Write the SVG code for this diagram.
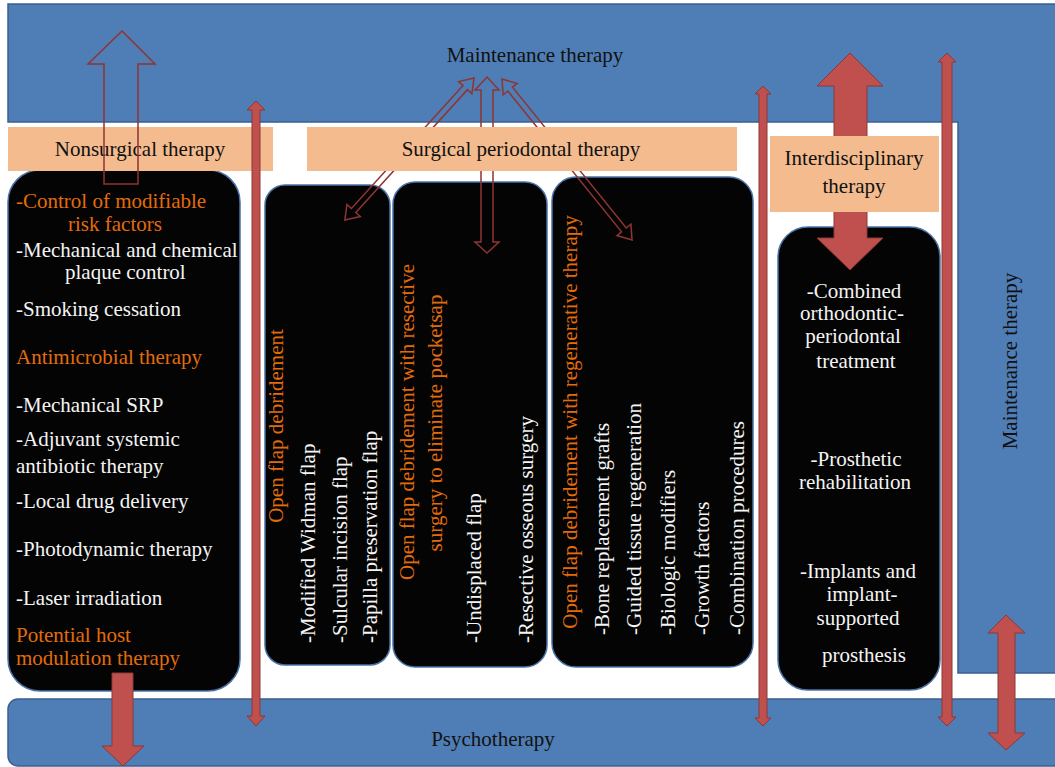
<svg xmlns="http://www.w3.org/2000/svg" width="1055" height="767" viewBox="0 0 1055 767">
<style>
text{font-family:"Liberation Serif","Times New Roman",serif;font-size:21px}
.dk{fill:#111}
.wh{fill:#f4f4f4}
.or{fill:#e36c0a}
.mid{text-anchor:middle}
.blue{fill:#4f7db6;stroke:#3a5f8e;stroke-width:1.5}
.peach{fill:#f3bb8e}
.box{fill:#040404;stroke:#4a72a6;stroke-width:1.5}
.solid{fill:#c0504d;stroke:#8c3836;stroke-width:1}
.hollow{fill:none;stroke:#8e3532;stroke-width:1.5}
</style>
<rect width="1055" height="767" fill="#ffffff"/>

<g id="maintenance">
<polygon class="blue" points="8,4 1060,4 1060,673 958,673 958,122 8,122"/>
<text class="dk mid" x="535" y="62">Maintenance therapy</text>
<text class="dk mid" transform="translate(1017,361) rotate(-90)">Maintenance therapy</text>
</g>

<g id="psychotherapy">
<rect class="blue" x="8" y="699" width="1060" height="67" rx="10"/>
<text class="dk mid" x="493" y="746">Psychotherapy</text>
</g>

<g id="nonsurgical-box">
<rect class="box" x="8" y="170" width="232" height="521" rx="32"/>
<text class="or" x="16" y="208">-Control of modifiable</text>
<text class="or" x="68" y="231">risk factors</text>
<text class="wh" x="16" y="257">-Mechanical and chemical</text>
<text class="wh" x="65" y="279">plaque control</text>
<text class="wh" x="16" y="316">-Smoking cessation</text>
<text class="or" x="16" y="364">Antimicrobial therapy</text>
<text class="wh" x="16" y="412">-Mechanical SRP</text>
<text class="wh" x="16" y="446">-Adjuvant systemic</text>
<text class="wh" x="16" y="473">antibiotic therapy</text>
<text class="wh" x="16" y="508">-Local drug delivery</text>
<text class="wh" x="16" y="556">-Photodynamic therapy</text>
<text class="wh" x="16" y="605">-Laser irradiation</text>
<text class="or" x="16" y="642">Potential host</text>
<text class="or" x="16" y="665">modulation therapy</text>
</g>

<g id="open-flap-box">
<rect class="box" x="265" y="185" width="125" height="480" rx="20"/>
<text class="or mid" transform="translate(283,426) rotate(-90)">Open flap debridement</text>
<text class="wh" transform="translate(315,643) rotate(-90)">-Modified Widman flap</text>
<text class="wh" transform="translate(347,643) rotate(-90)">-Sulcular incision flap</text>
<text class="wh" transform="translate(377,643) rotate(-90)">-Papilla preservation flap</text>
</g>

<g id="resective-box">
<rect class="box" x="393" y="182" width="154" height="485" rx="22"/>
<text class="or mid" transform="translate(414,422) rotate(-90)">Open flap debridement with resective</text>
<text class="or mid" transform="translate(442,423) rotate(-90)">surgery to eliminate pocketsap</text>
<text class="wh" transform="translate(481,643) rotate(-90)">-Undisplaced flap</text>
<text class="wh" transform="translate(533,643) rotate(-90)">-Resective osseous surgery</text>
</g>

<g id="regenerative-box">
<rect class="box" x="552" y="177" width="201" height="490" rx="24"/>
<text class="or mid" transform="translate(577,422) rotate(-90)">Open flap debridement with regenerative therapy</text>
<text class="wh" transform="translate(609,635) rotate(-90)">-Bone replacement grafts</text>
<text class="wh" transform="translate(641,635) rotate(-90)">-Guided tissue regeneration</text>
<text class="wh" transform="translate(675,635) rotate(-90)">-Biologic modifiers</text>
<text class="wh" transform="translate(709,635) rotate(-90)">-Growth factors</text>
<text class="wh" transform="translate(744,635) rotate(-90)">-Combination procedures</text>
</g>

<g id="interdisciplinary-box">
<rect class="box" x="778" y="227" width="162" height="463" rx="30"/>
<text class="wh mid" x="854" y="298">-Combined</text>
<text class="wh mid" x="852" y="320">orthodontic-</text>
<text class="wh mid" x="853" y="343">periodontal</text>
<text class="wh mid" x="856" y="368">treatment</text>
<text class="wh mid" x="856" y="466">-Prosthetic</text>
<text class="wh mid" x="855" y="489">rehabilitation</text>
<text class="wh mid" x="858" y="578">-Implants and</text>
<text class="wh mid" x="862" y="601">implant-</text>
<text class="wh mid" x="858" y="625">supported</text>
<text class="wh mid" x="864" y="662">prosthesis</text>
</g>

<g id="connectors-back">
<polygon class="hollow" points="487,77 499,90 493,90 493,242 499,242 487,253 475,242 481,242 481,90 475,90"/>
<polygon class="hollow" transform="translate(474,78) rotate(132.26)" points="0,0 13,-9 13,-3 179,-3 179,-9 192,0 179,9 179,3 13,3 13,9"/>
<polygon class="hollow" transform="translate(502,79) rotate(51.07)" points="0,0 13,-9 13,-3 194,-3 194,-9 207,0 194,9 194,3 13,3 13,9"/>
<polygon class="solid" points="850,53 883,86 867,86 867,238 883,238 850,270 817,238 834,238 834,86 817,86"/>
</g>

<g id="nonsurgical-label">
<rect class="peach" x="8" y="127" width="265" height="44"/>
<text class="dk mid" x="140" y="156">Nonsurgical therapy</text>
</g>

<g id="surgical-label">
<rect class="peach" x="307" y="127" width="430" height="44"/>
<text class="dk mid" x="521" y="156">Surgical periodontal therapy</text>
</g>

<g id="interdisciplinary-label">
<rect class="peach" x="770" y="136" width="169" height="76"/>
<text class="dk mid" x="854" y="165">Interdisciplinary</text>
<text class="dk mid" x="854" y="193">therapy</text>
</g>

<g id="connectors">
<polygon class="hollow" points="122,31 155,64 138,64 138,184 104,184 104,64 88,64"/>
<polygon class="solid" points="256,101 265,110 260,110 260,716 265,716 256,726 247,716 252,716 252,110 247,110"/>
<polygon class="solid" points="763,86 771,94 767,94 767,718 771,718 763,726 755,718 759,718 759,94 755,94"/>
<polygon class="solid" points="947,53 956,62 952,62 952,717 956,717 947,726 938,717 942,717 942,62 938,62"/>
<polygon class="solid" points="112,673 133,673 133,746 144,746 123,766 102,746 112,746"/>
<polygon class="solid" points="1006,615 1025,633 1015,633 1015,733 1025,733 1006,750 988,733 998,733 998,633 988,633"/>
</g>
</svg>
